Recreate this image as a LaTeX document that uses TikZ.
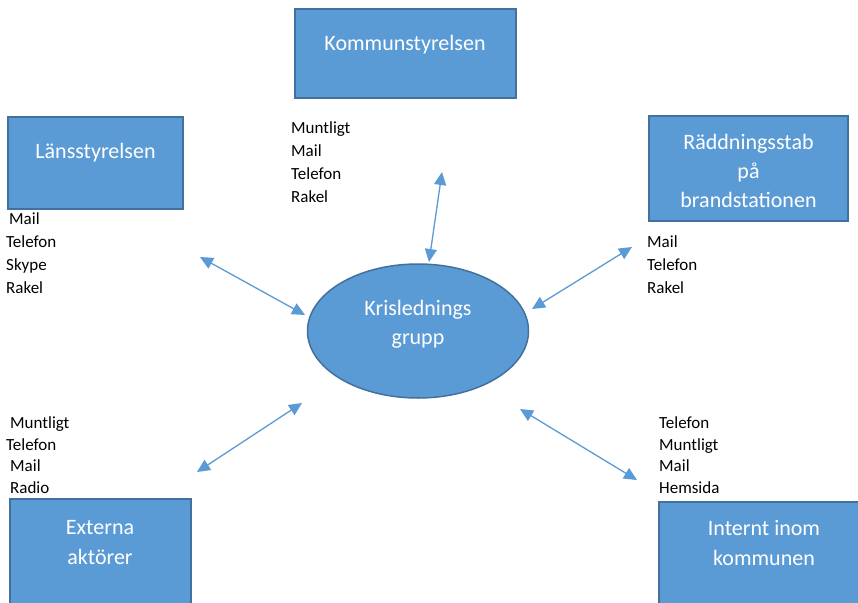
\documentclass[tikz,border=0pt]{standalone}
\usepackage{fontspec}
\setmainfont{Carlito}
\usetikzlibrary{shapes.geometric,arrows.meta}
\definecolor{boxfill}{HTML}{5B9BD5}
\definecolor{boxline}{HTML}{41719C}
\definecolor{arrowc}{HTML}{5B9BD5}
\begin{document}
\begin{tikzpicture}[x=1pt,y=-1pt,
  orgbox/.style={draw=boxline,fill=boxfill,line width=1.5pt,rectangle,inner sep=0pt},
  boxtext/.style={text=white,font=\fontsize{22}{29}\selectfont,align=center,inner sep=0pt,anchor=base},
  listtext/.style={text=black,font=\fontsize{17}{22.7}\selectfont,align=left,inner sep=0pt,anchor=base west},
  link/.style={draw=arrowc,line width=1.3pt,{Triangle[length=13pt,width=12pt]}-{Triangle[length=13pt,width=12pt]}}]
\useasboundingbox (0,0) rectangle (858,602);
\clip (0,0) rectangle (858,602);
\fill[white] (0,0) rectangle (858,602);
% boxes
\node[orgbox,minimum width=221pt,minimum height=89pt] (ks) at (405.5,53.5) {};
\node[orgbox,minimum width=175pt,minimum height=92pt] (ls) at (95.5,163) {};
\node[orgbox,minimum width=199pt,minimum height=105pt] (rs) at (748.5,168.5) {};
\node[orgbox,minimum width=181pt,minimum height=120pt] (ea) at (100.5,559) {};
\node[orgbox,minimum width=215pt,minimum height=120pt] (ik) at (766.5,562) {};
\node[draw=boxline,fill=boxfill,line width=1.5pt,ellipse,minimum width=221pt,minimum height=134pt,inner sep=0pt] (kg) at (418,331) {};
% box texts
\node[boxtext] (tks) at (405,50) {Kommunstyrelsen};
\node[boxtext] (tls) at (95.5,158) {Länsstyrelsen};
\node[boxtext] (trs1) at (748.5,149) {Räddningsstab};
\node[boxtext] (trs2) at (748.5,178) {på};
\node[boxtext] (trs3) at (748.5,207) {brandstationen};
\node[boxtext] (tea1) at (100,534) {Externa};
\node[boxtext] (tea2) at (100,564) {aktörer};
\node[boxtext] (tik1) at (764,535) {Internt inom};
\node[boxtext] (tik2) at (764,565) {kommunen};
\node[boxtext] (tkg1) at (418,315) {Krislednings};
\node[boxtext] (tkg2) at (418,344) {grupp};
% lists
\node[listtext] (lks1) at (291,133) {Muntligt};
\node[listtext] (lks2) at (291,156) {Mail};
\node[listtext] (lks3) at (291,179) {Telefon};
\node[listtext] (lks4) at (291,202) {Rakel};
\node[listtext] (lls1) at (9,224) {Mail};
\node[listtext] (lls2) at (6,247) {Telefon};
\node[listtext] (lls3) at (6,270) {Skype};
\node[listtext] (lls4) at (6,293) {Rakel};
\node[listtext] (lrs1) at (647,247) {Mail};
\node[listtext] (lrs2) at (647,270) {Telefon};
\node[listtext] (lrs3) at (647,293) {Rakel};
\node[listtext] (lea1) at (10,428) {Muntligt};
\node[listtext] (lea2) at (6,450) {Telefon};
\node[listtext] (lea3) at (10,471) {Mail};
\node[listtext] (lea4) at (10,493) {Radio};
\node[listtext] (lik1) at (659,428) {Telefon};
\node[listtext] (lik2) at (659,450) {Muntligt};
\node[listtext] (lik3) at (659,471) {Mail};
\node[listtext] (lik4) at (659,493) {Hemsida};
% arrow ends
\coordinate (a1s) at (429,262); \coordinate (a1e) at (442,172);
\coordinate (a2s) at (305,315); \coordinate (a2e) at (200,257);
\coordinate (a3s) at (532,309); \coordinate (a3e) at (632,247);
\coordinate (a4s) at (302,403); \coordinate (a4e) at (197,472);
\coordinate (a5s) at (520,409); \coordinate (a5e) at (637,480);
\draw[link] (a1s) -- (a1e);
\draw[link] (a2s) -- (a2e);
\draw[link] (a3s) -- (a3e);
\draw[link] (a4s) -- (a4e);
\draw[link] (a5s) -- (a5e);
\end{tikzpicture}
\end{document}
